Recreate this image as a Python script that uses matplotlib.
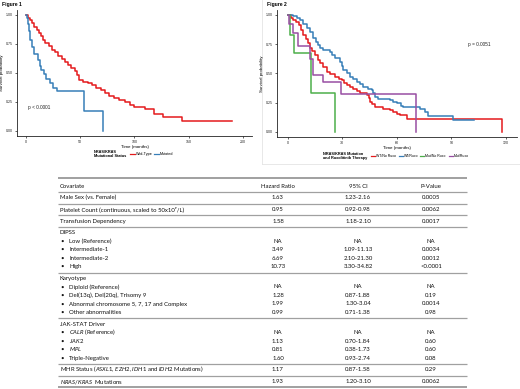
import matplotlib
matplotlib.use("Agg")
import matplotlib.pyplot as plt

plt.rcParams["mathtext.fontset"] = "custom"
plt.rcParams["mathtext.rm"] = "Lato"
plt.rcParams["mathtext.it"] = "Lato:italic"
plt.rcParams["mathtext.bf"] = "Lato:bold"

# ---------------- data ----------------
f1_wt_t = [0, 2, 4, 6, 8, 10, 12, 14, 16, 18, 21, 24, 27, 30, 33, 36, 39, 42, 45, 47, 49, 53, 57,
           61, 65, 69, 73, 77, 81, 86, 91, 96, 100, 105, 110, 118, 126, 144, 190]
f1_wt_s = [1, 0.975, 0.95, 0.925, 0.895, 0.865, 0.84, 0.815, 0.785, 0.76, 0.73, 0.70, 0.675, 0.645,
           0.62, 0.595, 0.57, 0.545, 0.515, 0.48, 0.44, 0.425, 0.41, 0.395, 0.37, 0.35, 0.325, 0.305,
           0.285, 0.27, 0.245, 0.225, 0.21, 0.205, 0.19, 0.15, 0.12, 0.085, 0.085]
f1_mut_t = [0, 1, 2, 3, 4, 5.5, 8, 11, 13, 14.5, 17, 19, 22, 25, 29, 54, 71]
f1_mut_s = [1, 0.97, 0.92, 0.86, 0.78, 0.72, 0.66, 0.61, 0.56, 0.52, 0.49, 0.45, 0.41, 0.37, 0.34, 0.17, 0.0]

f2_wtno_t = [0, 2, 3, 4.5, 6, 7.5, 8.6, 10, 11, 12.3, 13.5, 15, 16.8, 18, 19.5, 21.4, 23, 26, 28, 29.7,
             31, 32.4, 34, 36, 38, 39.7, 43.4, 44.5, 45.2, 46.5, 48, 52.6, 56, 58, 60, 61.7, 65.4, 118]
f2_wtno_s = [1, 0.975, 0.957, 0.935, 0.91, 0.87, 0.83, 0.79, 0.755, 0.715, 0.69, 0.655, 0.615, 0.59,
             0.555, 0.515, 0.49, 0.47, 0.455, 0.443, 0.42, 0.40, 0.385, 0.37, 0.35, 0.334, 0.314, 0.29,
             0.257, 0.235, 0.209, 0.2, 0.185, 0.17, 0.155, 0.143, 0.114, 0.0]
f2_wtrux_t = [0, 3, 5, 6.8, 8.5, 10.4, 12, 14.1, 15.5, 16.8, 18, 19.6, 23.3, 24.5, 26, 28.8, 29.8, 30.6,
              32.5, 34.2, 36, 37.9, 39.5, 41.6, 44, 46.2, 47, 48, 49.8, 56.2, 58, 59.9, 62, 63.6, 72.7,
              75.5, 77.3, 90.7, 102.6]
f2_wtrux_s = [1, 0.986, 0.97, 0.957, 0.92, 0.886, 0.85, 0.80, 0.77, 0.743, 0.72, 0.70, 0.686, 0.66, 0.63,
              0.60, 0.565, 0.53, 0.50, 0.47, 0.45, 0.43, 0.41, 0.386, 0.37, 0.357, 0.33, 0.30, 0.277,
              0.27, 0.255, 0.243, 0.225, 0.209, 0.2, 0.17, 0.134, 0.10, 0.10]
f2_mutno_t = [0, 1.3, 3.7, 12.8, 26]
f2_mutno_s = [1, 0.83, 0.67, 0.334, 0.0]
f2_mutrux_t = [0, 0.9, 3.1, 5.9, 12, 14, 19.3, 29.3, 70.5]
f2_mutrux_s = [1, 0.923, 0.846, 0.73, 0.62, 0.486, 0.43, 0.32, 0.0]

f1_labels = ["Wild-Type", "Mutated"]
f2_labels = ["WT/No Ruxo", "WT/Ruxo", "Mut/No Ruxo", "Mut/Ruxo"]
y_ticks = [0.00, 0.25, 0.50, 0.75, 1.00]
f1_xticks = [0, 50, 100, 150, 200]
f2_xticks = [0, 30, 60, 90, 120]

NB = "\u00a0"
table_header = ["Covariate", "Hazard Ratio", "95% CI", "P-Value"]
# (label, hr, ci, p, kind) ; kind: 's' separated row, 'g' group title, 'b' bullet
table_rows = [
    ("Male Sex (vs. Female)", "1.63", "1.23-2.16", "0.0005", "s"),
    ("Platelet Count (continuous, scaled to 50x10\u2079/L)", "0.95", "0.92-0.98", "0.0062", "s"),
    ("Transfusion Dependency", "1.58", "1.18-2.10", "0.0017", "s"),
    ("DIPSS", "", "", "", "g"),
    ("Low (Reference)", "NA", "NA", "NA", "b"),
    ("Intermediate-1", "3.49", "1.09-11.13", "0.0034", "b"),
    ("Intermediate-2", "6.69", "2.10-21.30", "0.0012", "b"),
    ("High", "10.73", "3.30-34.82", "<0.0001", "b"),
    ("Karyotype", "", "", "", "g"),
    ("Diploid (Reference)", "NA", "NA", "NA", "b"),
    ("Del(13q), Del(20q), Trisomy 9", "1.28", "0.87-1.88", "0.19", "b"),
    ("Abnormal chromosome 5, 7, 17 and Complex", "1.99", "1.30-3.04", "0.0014", "b"),
    ("Other abnormalities", "0.99", "0.71-1.38", "0.98", "b"),
    ("JAK-STAT Driver", "", "", "", "g"),
    (r"$\mathit{CALR}$" + NB + "(Reference)", "NA", "NA", "NA", "b"),
    (r"$\mathit{JAK2}$", "1.13", "0.70-1.84", "0.60", "b"),
    (r"$\mathit{MPL}$", "0.81", "0.38-1.73", "0.60", "b"),
    ("Triple-Negative", "1.60", "0.93-2.74", "0.08", "b"),
    (r"MHR Status ($\mathit{ASXL1}$, $\mathit{EZH2}$, $\mathit{IDH1}$" + NB + r"and $\mathit{IDH2}$"
     + NB + "Mutations)", "1.17", "0.87-1.58", "0.29", "s"),
    (r"$\mathit{NRAS/KRAS}$" + NB + NB + "Mutations", "1.93", "1.20-3.10", "0.0062", "s"),
]

RED, BLUE, GREEN, PURPLE = "#E41A1C", "#377EB8", "#4DAF4A", "#984EA3"
PF = ["Liberation Sans", "DejaVu Sans"]
TF = ["Lato", "DejaVu Sans"]

W, H = 520, 389
fig = plt.figure(figsize=(W / 100, H / 100), dpi=100)
bg = fig.add_axes([0, 0, 1, 1])
bg.set_xlim(0, W)
bg.set_ylim(H, 0)
bg.axis("off")


def px_axes(x0, y0, x1, y1):
    return fig.add_axes([x0 / W, 1 - y1 / H, (x1 - x0) / W, (y1 - y0) / H])


def style_km(ax, xticks, xlim):
    ax.set_xlim(*xlim)
    ax.set_ylim(-0.043, 1.04)
    for s in ["top", "right"]:
        ax.spines[s].set_visible(False)
    for s in ["left", "bottom"]:
        ax.spines[s].set_linewidth(0.6)
        ax.spines[s].set_color("#222222")
    ax.set_xticks(xticks)
    ax.set_yticks(y_ticks)
    ax.set_yticklabels([f"{v:.2f}" for v in y_ticks])
    ax.tick_params(labelsize=2.6, length=1.5, width=0.5, pad=1.2, colors="#222222")
    for lab in ax.get_xticklabels() + ax.get_yticklabels():
        lab.set_family(PF)
    ax.set_xlabel("Time (months)", fontsize=3.2, family=PF, labelpad=1.2)
    ax.set_ylabel("Survival probability", fontsize=3.2, family=PF, labelpad=1.5)
    ax.patch.set_alpha(0)


# ---------- Figure 1 ----------
ax1 = px_axes(17, 10, 252, 136)
ax1.step(f1_wt_t, f1_wt_s, where="post", color=RED, lw=1.1)
ax1.step(f1_mut_t, f1_mut_s, where="post", color=BLUE, lw=1.1)
style_km(ax1, f1_xticks, (-8, 208))
ax1.text(2, 0.20, "p < 0.0001", fontsize=3.4, family=PF, color="#222222", va="center")
bg.text(2, 4, "Figure 1", fontsize=3.6, family=PF, weight="bold", va="center")

bg.text(94, 151.5, "NRAS/KRAS", fontsize=2.8, family=PF, weight="bold", va="center")
bg.text(94, 156.3, "Mutational Status", fontsize=2.8, family=PF, weight="bold", va="center")
leg1_x = [130, 154]
for lx, lab, col in zip(leg1_x, f1_labels, [RED, BLUE]):
    bg.plot([lx, lx + 4.5], [154, 154], color=col, lw=0.9)
    bg.text(lx + 6, 154, lab, fontsize=2.7, family=PF, va="center")

# ---------- Figure 2 ----------
ax2 = px_axes(277, 10, 517, 137)
ax2.step(f2_wtno_t, f2_wtno_s, where="post", color=RED, lw=1.1)
ax2.step(f2_wtrux_t, f2_wtrux_s, where="post", color=BLUE, lw=1.1)
ax2.step(f2_mutno_t, f2_mutno_s, where="post", color=GREEN, lw=1.1)
ax2.step(f2_mutrux_t, f2_mutrux_s, where="post", color=PURPLE, lw=1.1)
style_km(ax2, f2_xticks, (-5.9, 126))
ax2.text(99, 0.75, "p = 0.0051", fontsize=3.4, family=PF, color="#222222", va="center")
bg.text(267, 4, "Figure 2", fontsize=3.6, family=PF, weight="bold", va="center")
bg.plot([261.5, 261.5], [0, 164], color="#e4e4e4", lw=0.6)
bg.plot([261.5, 520], [164, 164], color="#e4e4e4", lw=0.6)

bg.text(323, 153.5, "NRAS/KRAS Mutation", fontsize=2.8, family=PF, weight="bold", va="center")
bg.text(323, 158, "and Ruxolitinib Therapy", fontsize=2.8, family=PF, weight="bold", va="center")
leg2_x = [371, 399, 420, 449]
for lx, lab, col in zip(leg2_x, f2_labels, [RED, BLUE, GREEN, PURPLE]):
    bg.plot([lx, lx + 4.2], [155.7, 155.7], color=col, lw=0.9)
    bg.text(lx + 5, 155.7, lab, fontsize=2.5, family=PF, va="center")

# ---------- Table ----------
TX0, TX1 = 58, 467
col_x = [60, 278, 358, 431]
FS = 4.3
LC = "#a0a0a0"
TC = "#111111"


def hline(y, lw=0.9):
    bg.plot([TX0, TX1], [y, y], color=LC, lw=lw, solid_capstyle="butt")


def label_text(x, y, s):
    bg.text(x, y + 1.6, s, fontsize=FS, family=TF, va="baseline", ha="left", color=TC)


y = 178.3
hline(y, 1.4)
y += 7.7
for i, h in enumerate(table_header):
    bg.text(col_x[i], y, h, fontsize=FS, family=TF, va="center", ha="left" if i == 0 else "center",
            color=TC)
prev_y = y
for lab, hr, ci, p, kind in table_rows:
    if kind in ("s", "g"):
        hline(prev_y + 5.8)
        y = prev_y + 11.7
    else:
        y = prev_y + 8.5
    if kind == "b":
        bg.text(col_x[0] + 2, y, "\u2022", fontsize=FS, family=TF, va="center", ha="center", color=TC)
        label_text(col_x[0] + 9, y, lab)
    else:
        label_text(col_x[0], y, lab)
    for cx, v in zip(col_x[1:], [hr, ci, p]):
        if v:
            bg.text(cx, y, v, fontsize=FS, family=TF, va="center", ha="center", color=TC)
    prev_y = y
hline(prev_y + 5.8, 1.4)

fig.savefig("out.png", dpi=100)
